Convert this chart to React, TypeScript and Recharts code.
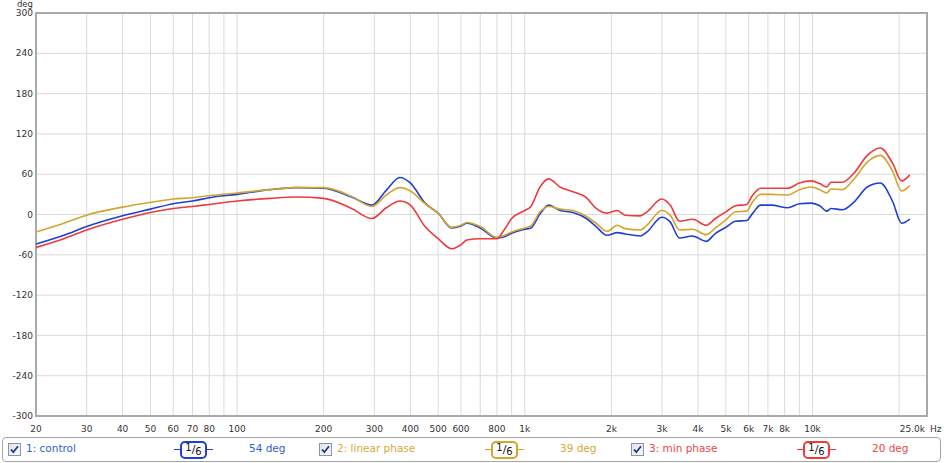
import React from 'react';
import { LineChart, Line, XAxis, YAxis, CartesianGrid, ReferenceArea } from 'recharts';

// frequency points (Hz) shared by all three traces
const freqs = [
  20, 25, 30, 40, 50, 60, 70, 80, 100, 130, 160, 200, 250, 294, 330, 368, 400, 450, 500, 557,
  600, 629, 700, 800, 850, 900, 1000, 1050, 1130, 1210, 1325, 1470, 1637, 1770, 1930, 2100,
  2230, 2520, 2660, 2990, 3200, 3450, 3830, 4270, 4600, 5000, 5400, 5900, 6200, 6600, 7200,
  8200, 9000, 9900, 10600, 11200, 11600, 12700, 13900, 15500, 17200, 19000, 20400, 21800,
];

const controlDeg = [
  -44, -31, -18, -2, 8, 16, 20, 25, 30, 37, 40, 39, 26, 14, 36, 55, 47, 17, 2, -20,
  -17, -13, -20, -35, -33, -28, -22, -20, 1, 14, 6, 3, -6, -18, -31, -27,
  -29, -32, -26, -4, -11, -35, -32, -40, -28, -19, -10, -9, 2, 14, 14,
  10, 16, 17, 13, 5, 9, 7, 18, 41, 47, 19, -13, -7,
];

const linearDeg = [
  -26, -13, -1, 11, 18, 23, 25, 28, 32, 37, 40, 40, 27, 12, 29, 40, 35, 16, 2, -19,
  -16, -12, -18, -34, -31, -26, -20, -17, 4, 12, 8, 6, -3, -13, -25, -16,
  -21, -23, -16, 6, -1, -23, -22, -30, -20, -8, 4, 5, 19, 30, 30,
  29, 37, 41, 37, 32, 38, 37, 52, 78, 88, 64, 35, 43,
];

const minDeg = [
  -49, -36, -23, -7, 3, 9, 12, 15, 20, 24, 26, 24, 9, -6, 10, 20, 14, -18, -36, -51,
  -45, -38, -36, -36, -22, -6, 6, 12, 41, 53, 41, 34, 25, 9, 2, 6,
  -1, -2, 4, 23, 14, -10, -7, -16, -6, 4, 13, 15, 29, 39, 39,
  39, 47, 50, 46, 41, 48, 48, 61, 88, 99, 76, 50, 59,
];

const xTicks = [
  20, 30, 40, 50, 60, 70, 80, 90, 100, 200, 300, 400, 500, 600, 700, 800, 900, 1000,
  2000, 3000, 4000, 5000, 6000, 7000, 8000, 9000, 10000, 20000, 25000,
];
const xUnlabeled = [90, 700, 900, 9000, 20000];
const yTicks = [-300, -240, -180, -120, -60, 0, 60, 120, 180, 240, 300];

const seriesNames = ['1: control', '2: linear phase', '3: min phase'];
const seriesKeys = ['control', 'linear', 'minp'];
const lineColors = ['#1f3fd6', '#d2a52c', '#ee3a3a'];
const textColors = ['#3061d2', '#d9a838', '#ee4646'];
const readouts = ['54 deg', '39 deg', '20 deg'];

const data = freqs.map((f, i) => ({
  f,
  control: controlDeg[i],
  linear: linearDeg[i],
  minp: minDeg[i],
}));

const FONT = '"DejaVu Sans", Verdana, sans-serif';

const fmtHz = (v: number) => {
  if (xUnlabeled.includes(v)) return '';
  if (v >= 1000) return `${v / 1000}k`;
  return String(v);
};

const XTick = (props: any) => {
  const { x, y, payload } = props;
  const v = payload.value as number;
  if (v === 25000) {
    return (
      <g>
        <text x={x - 2} y={y} dy="0.71em" textAnchor="end" fontSize={9} fill="#333" fontFamily={FONT}>
          25.0k
        </text>
        <text x={x + 3} y={y} dy="0.71em" textAnchor="start" fontSize={9} fill="#333" fontFamily={FONT}>
          Hz
        </text>
      </g>
    );
  }
  return (
    <text x={x} y={y} dy="0.71em" textAnchor="middle" fontSize={9} fill="#333" fontFamily={FONT}>
      {fmtHz(v)}
    </text>
  );
};

const CheckBox = () => (
  <svg width={13} height={13} style={{ display: 'block' }}>
    <defs>
      <linearGradient id="cbg" x1="0" y1="0" x2="1" y2="1">
        <stop offset="0%" stopColor="#dfe3ea" />
        <stop offset="100%" stopColor="#f8f9fb" />
      </linearGradient>
    </defs>
    <rect x={0.5} y={0.5} width={12} height={12} fill="url(#cbg)" stroke="#8a94a6" />
    <path d="M3 6.5 L5.3 9.2 L10 3.3" fill="none" stroke="#23357e" strokeWidth={1.8} />
  </svg>
);

const Badge = ({ color }: { color: string }) => (
  <div style={{ position: 'relative', width: 39, height: 18 }}>
    <div style={{ position: 'absolute', left: 0, top: 8, width: 39, height: 0, borderTop: `1.5px solid ${color}` }} />
    <div
      style={{
        position: 'absolute',
        left: 6,
        top: 0,
        width: 23,
        height: 14,
        border: `2px solid ${color}`,
        borderRadius: 5,
        background: '#fff',
        fontFamily: FONT,
        fontSize: 10,
        color: '#111',
        lineHeight: '14px',
        textAlign: 'center',
      }}
    >
      <span style={{ position: 'relative', top: -2 }}>1</span>
      <span style={{ fontSize: 11 }}>/</span>
      <span style={{ position: 'relative', top: 2 }}>6</span>
    </div>
  </div>
);

const itemLeft = [8, 319, 631];

const LegendBar = () => (
  <div
    style={{
      position: 'absolute',
      left: 2,
      top: 437,
      width: 937,
      height: 23,
      border: '1px solid #a4a4a4',
      borderRadius: 4,
      background: '#fff',
    }}
  >
    {seriesNames.map((name, i) => (
      <React.Fragment key={name}>
        <div style={{ position: 'absolute', left: itemLeft[i] - 3, top: 5 }}>
          <CheckBox />
        </div>
        <div
          style={{
            position: 'absolute',
            left: itemLeft[i] + 15,
            top: 4,
            fontFamily: FONT,
            fontSize: 10.5,
            color: textColors[i],
            whiteSpace: 'nowrap',
          }}
        >
          {name}
        </div>
        <div style={{ position: 'absolute', left: itemLeft[i] + 163, top: 3 }}>
          <Badge color={lineColors[i]} />
        </div>
        <div
          style={{
            position: 'absolute',
            left: itemLeft[i] + 238,
            top: 4,
            fontFamily: FONT,
            fontSize: 10.5,
            color: textColors[i],
            whiteSpace: 'nowrap',
          }}
        >
          {readouts[i]}
        </div>
      </React.Fragment>
    ))}
  </div>
);

export default function App() {
  return (
    <div style={{ position: 'absolute', left: 0, top: 0, width: 944, height: 463, background: '#fff' }}>
      <LineChart width={944} height={436} data={data} margin={{ top: 13, right: 17, bottom: 0, left: 0 }}>
        <CartesianGrid stroke="#dadada" strokeWidth={1} />
        <XAxis
          dataKey="f"
          type="number"
          scale="log"
          domain={[20, 25000]}
          ticks={xTicks}
          interval={0}
          tick={<XTick />}
          tickLine={false}
          axisLine={false}
          tickSize={0}
          tickMargin={10}
          height={20}
          allowDataOverflow
        />
        <YAxis
          type="number"
          domain={[-300, 300]}
          ticks={yTicks}
          interval={0}
          width={36}
          tickLine={false}
          axisLine={false}
          tickSize={0}
          tickMargin={3}
          tick={{ fontSize: 9, fill: '#333', fontFamily: FONT }}
          label={{
            content: () => (
              <text x={33} y={6.5} textAnchor="end" fontSize={8.5} fill="#333" fontFamily={FONT}>
                deg
              </text>
            ),
          }}
        />
        <ReferenceArea x1={20} x2={25000} y1={-300} y2={300} fill="none" fillOpacity={0} stroke="#a9a9a9" strokeWidth={2} />
        {seriesKeys.map((k, i) => (
          <Line
            key={k}
            dataKey={k}
            name={seriesNames[i]}
            type="monotone"
            stroke={lineColors[i]}
            strokeWidth={1.6}
            dot={false}
            isAnimationActive={false}
          />
        ))}
      </LineChart>
      <LegendBar />
    </div>
  );
}
